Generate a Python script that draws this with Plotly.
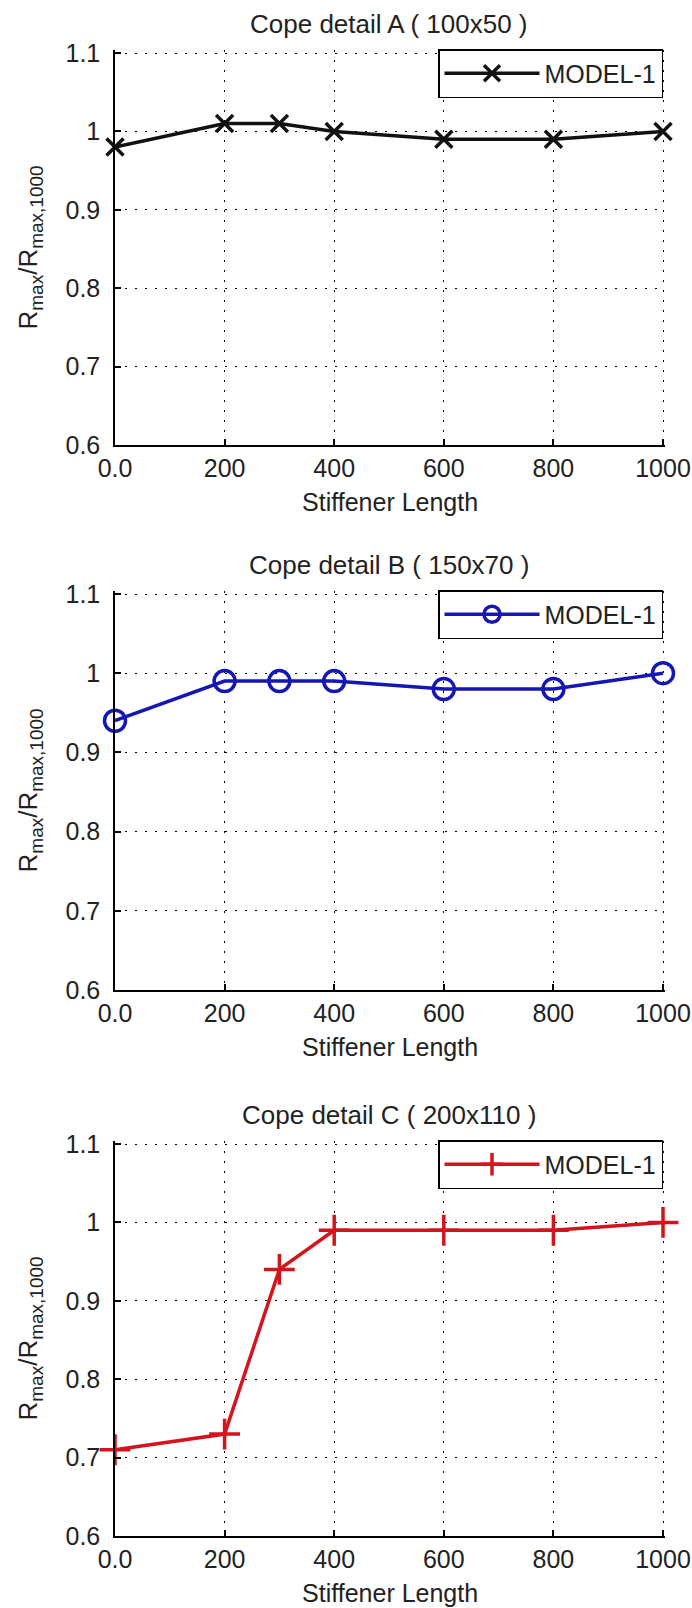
import plotly.graph_objects as go

# ---- data ----
stiffener_length = [0, 200, 300, 400, 600, 800, 1000]
ratio_A = [0.98, 1.01, 1.01, 1.00, 0.99, 0.99, 1.00]
ratio_B = [0.94, 0.99, 0.99, 0.99, 0.98, 0.98, 1.00]
ratio_C = [0.71, 0.73, 0.94, 0.99, 0.99, 0.99, 1.00]
panel_titles = ["Cope detail A ( 100x50 )", "Cope detail B ( 150x70 )", "Cope detail C ( 200x110 )"]
series_name = "MODEL-1"
x_tickvals = [0, 200, 400, 600, 800, 1000]
x_ticktext = ["0.0", "200", "400", "600", "800", "1000"]
y_tickvals = [0.6, 0.7, 0.8, 0.9, 1.0, 1.1]
y_ticktext = ["0.6", "0.7", "0.8", "0.9", "1", "1.1"]
x_title = "Stiffener Length"
y_title = ('R<sub><span style="font-size:19px">max</span></sub>/'
           'R<sub><span style="font-size:19px">max,1000</span></sub>')

W, H = 692, 1608
FONT = "Liberation Sans, Arial, sans-serif"
TXT = "#222222"

# pixel layout of each panel: (pixel of y=1.1, pixel of y=0.6); x=0 / x=1000 pixels
panels_px = [(53, 445), (594, 990), (1144, 1536)]
left_px, right_px = 115, 663
XR = [0, 1004]        # small pad so the 1000 grid line is drawn
YR = [0.6, 1.104]     # small pad so the 1.1 grid line is drawn

styles = [
    dict(color="#111111", symbol="x-thin-open", size=17),
    dict(color="#1616b4", symbol="circle-open", size=21),
    dict(color="#d4141c", symbol="cross-thin-open", size=22),
]
series = [ratio_A, ratio_B, ratio_C]

fig = go.Figure()
x_right = left_px + (right_px - left_px) * (XR[1] - XR[0]) / 1000
xdom = [left_px / W, x_right / W]

for i in range(3):
    n = "" if i == 0 else str(i + 1)
    top, bot = panels_px[i]
    top_pad = bot - (bot - top) * (YR[1] - YR[0]) / 0.5
    ydom = [1 - bot / H, 1 - top_pad / H]
    st = styles[i]
    fig.add_trace(go.Scatter(
        x=stiffener_length, y=series[i], mode="lines+markers", name=series_name,
        xaxis="x" + n, yaxis="y" + n, legend="legend" + n, cliponaxis=False,
        line=dict(color=st["color"], width=3.5),
        marker=dict(symbol=st["symbol"], size=st["size"], color=st["color"],
                    line=dict(color=st["color"], width=3.5)),
    ))
    common = dict(showline=True, linecolor="black", linewidth=1.5,
                  ticks="inside", ticklen=6, tickwidth=1.5, tickcolor="black",
                  showgrid=True, gridcolor="black", gridwidth=1, griddash="2px,8px",
                  zeroline=False, tickfont=dict(family=FONT, size=25, color=TXT),
                  ticklabeloverflow="allow", automargin=False, mirror=False)
    fig.layout["xaxis" + n] = dict(
        domain=xdom, anchor="y" + n, range=XR,
        tickvals=x_tickvals, ticktext=x_ticktext, ticklabelstandoff=0,
        title=dict(text=x_title, font=dict(family=FONT, size=25, color=TXT), standoff=13),
        **common)
    fig.layout["yaxis" + n] = dict(
        domain=ydom, anchor="x" + n, range=YR,
        tickvals=y_tickvals, ticktext=y_ticktext, ticklabelstandoff=8,
        title=dict(text=y_title, font=dict(family=FONT, size=26, color=TXT), standoff=20),
        **common)
    fig.layout["legend" + n] = dict(
        x=right_px / W, xanchor="right", y=1 - (top - 4) / H, yanchor="top",
        bgcolor="white", bordercolor="black", borderwidth=1.5,
        font=dict(family=FONT, size=25, color=TXT), itemwidth=95,
    )
    fig.add_annotation(
        text=panel_titles[i], x=(left_px + right_px) / 2 / W, y=1 - (top - 29) / H,
        xref="paper", yref="paper", showarrow=False, xanchor="center", yanchor="middle",
        font=dict(family=FONT, size=26, color=TXT),
    )

fig.update_layout(
    width=W, height=H, margin=dict(l=0, r=0, t=0, b=0),
    paper_bgcolor="white", plot_bgcolor="white", showlegend=True,
)

fig.write_html("out.html")
